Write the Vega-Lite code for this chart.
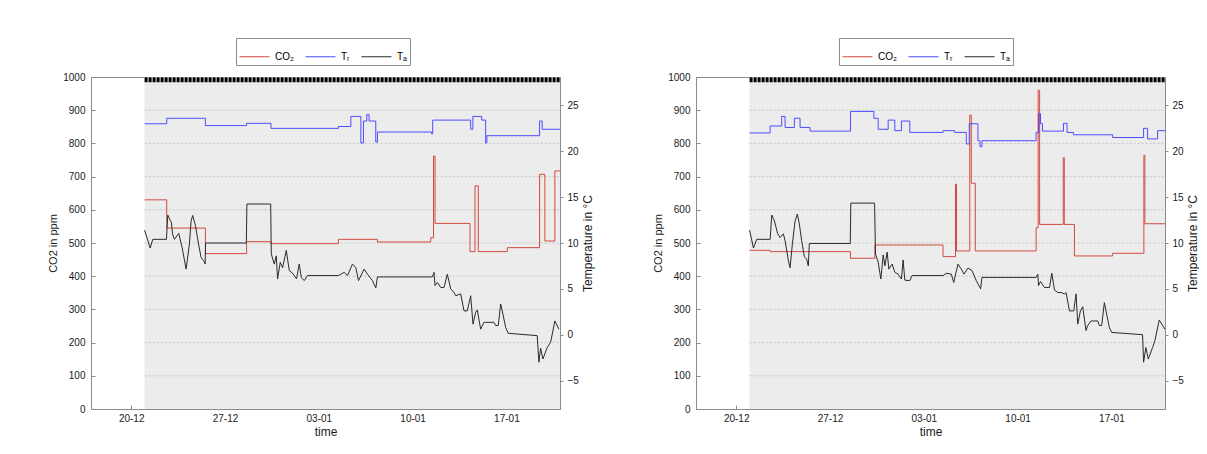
{
 "$schema": "https://vega.github.io/schema/vega-lite/v6.json",
 "padding": {"left": 47, "top": 37, "right": 0, "bottom": 0},
 "background": "white",
 "config": {
  "font": "Liberation Sans",
  "view": {"stroke": "#8c8c8c"},
  "axis": {"domainColor": "#8c8c8c", "tickColor": "#8c8c8c", "labelColor": "#1a1a1a", "titleColor": "#1a1a1a", "titleFontWeight": "normal", "grid": false, "labelFont": "Liberation Sans", "titleFont": "Liberation Sans", "labelFontSize": 10, "labelOverlap": false},
  "axisBottom": {"tickSize": -4, "labelPadding": 8, "titlePadding": 3, "titleFontSize": 12, "labelFlush": false},
  "axisLeft": {"tickSize": -4, "labelPadding": 10, "titlePadding": 4, "titleFontSize": 11, "labelOverlap": false},
  "axisRight": {"tickSize": 3, "labelPadding": 4, "titlePadding": 4, "titleFontSize": 12, "titleAngle": 270, "titleBaseline": "top"},
  "legend": {"labelFont": "Liberation Sans", "orient": "none", "legendY": -39, "direction": "horizontal", "symbolType": "stroke", "symbolSize": 900, "symbolStrokeWidth": 1, "labelFontSize": 10, "strokeColor": "#8c8c8c", "fillColor": "#ffffff", "padding": 3, "columnPadding": 9, "labelOffset": 5}
 },
 "datasets": {
  "span": [{"start": "2012-12-21T00:00", "end": "2013-01-21T00:00"}],
  "grid": [{"g": 100}, {"g": 200}, {"g": 300}, {"g": 400}, {"g": 500}, {"g": 600}, {"g": 700}, {"g": 800}, {"g": 900}],
  "left": [
   {"s": "CO2", "t": "2012-12-21T00:00", "v": 630},
   {"s": "CO2", "t": "2012-12-22T15:40", "v": 545},
   {"s": "CO2", "t": "2012-12-25T12:53", "v": 468},
   {"s": "CO2", "t": "2012-12-28T14:44", "v": 504},
   {"s": "CO2", "t": "2012-12-30T10:22", "v": 498},
   {"s": "CO2", "t": "2013-01-04T11:15", "v": 511},
   {"s": "CO2", "t": "2013-01-07T09:00", "v": 503},
   {"s": "CO2", "t": "2013-01-11T08:31", "v": 516},
   {"s": "CO2", "t": "2013-01-11T13:30", "v": 762},
   {"s": "CO2", "t": "2013-01-11T16:12", "v": 559},
   {"s": "CO2", "t": "2013-01-14T06:47", "v": 474},
   {"s": "CO2", "t": "2013-01-14T15:44", "v": 672},
   {"s": "CO2", "t": "2013-01-14T21:39", "v": 474},
   {"s": "CO2", "t": "2013-01-17T01:30", "v": 486},
   {"s": "CO2", "t": "2013-01-19T11:26", "v": 707},
   {"s": "CO2", "t": "2013-01-19T20:56", "v": 506},
   {"s": "CO2", "t": "2013-01-20T14:48", "v": 717},
   {"s": "CO2", "t": "2013-01-21T00:00", "v": 717},
   {"s": "T_R", "t": "2012-12-21T00:00", "v": 23.0},
   {"s": "T_R", "t": "2012-12-22T15:40", "v": 23.6},
   {"s": "T_R", "t": "2012-12-25T12:53", "v": 22.8},
   {"s": "T_R", "t": "2012-12-28T14:44", "v": 23.05},
   {"s": "T_R", "t": "2012-12-30T10:22", "v": 22.5},
   {"s": "T_R", "t": "2013-01-04T11:15", "v": 22.7},
   {"s": "T_R", "t": "2013-01-05T09:26", "v": 23.8},
   {"s": "T_R", "t": "2013-01-06T03:20", "v": 20.9},
   {"s": "T_R", "t": "2013-01-06T08:00", "v": 23.3},
   {"s": "T_R", "t": "2013-01-06T14:00", "v": 24.0},
   {"s": "T_R", "t": "2013-01-06T18:00", "v": 23.3},
   {"s": "T_R", "t": "2013-01-07T06:00", "v": 21.0},
   {"s": "T_R", "t": "2013-01-07T09:00", "v": 22.1},
   {"s": "T_R", "t": "2013-01-11T10:00", "v": 21.9},
   {"s": "T_R", "t": "2013-01-11T12:00", "v": 23.4},
   {"s": "T_R", "t": "2013-01-14T08:00", "v": 22.4},
   {"s": "T_R", "t": "2013-01-14T12:00", "v": 23.8},
   {"s": "T_R", "t": "2013-01-15T03:43", "v": 23.4},
   {"s": "T_R", "t": "2013-01-15T10:52", "v": 20.9},
   {"s": "T_R", "t": "2013-01-15T13:00", "v": 21.7},
   {"s": "T_R", "t": "2013-01-19T11:26", "v": 23.3},
   {"s": "T_R", "t": "2013-01-19T16:06", "v": 22.4},
   {"s": "T_R", "t": "2013-01-21T00:00", "v": 22.4},
   {"s": "T_A", "t": "2012-12-21T00:00", "v": 11.4},
   {"s": "T_A", "t": "2012-12-21T10:00", "v": 9.45},
   {"s": "T_A", "t": "2012-12-21T14:38", "v": 10.4},
   {"s": "T_A", "t": "2012-12-22T15:07", "v": 10.4},
   {"s": "T_A", "t": "2012-12-22T17:27", "v": 13.05},
   {"s": "T_A", "t": "2012-12-23T00:04", "v": 12.2},
   {"s": "T_A", "t": "2012-12-23T02:00", "v": 11.0},
   {"s": "T_A", "t": "2012-12-23T05:26", "v": 10.4},
   {"s": "T_A", "t": "2012-12-23T13:08", "v": 11.05},
   {"s": "T_A", "t": "2012-12-23T19:12", "v": 9.5},
   {"s": "T_A", "t": "2012-12-24T02:21", "v": 7.15},
   {"s": "T_A", "t": "2012-12-24T08:15", "v": 9.9},
   {"s": "T_A", "t": "2012-12-24T11:18", "v": 12.4},
   {"s": "T_A", "t": "2012-12-24T14:10", "v": 13.0},
   {"s": "T_A", "t": "2012-12-24T19:00", "v": 11.9},
   {"s": "T_A", "t": "2012-12-24T23:07", "v": 10.4},
   {"s": "T_A", "t": "2012-12-25T05:11", "v": 8.4},
   {"s": "T_A", "t": "2012-12-25T09:50", "v": 8.07},
   {"s": "T_A", "t": "2012-12-25T12:31", "v": 7.7},
   {"s": "T_A", "t": "2012-12-25T13:12", "v": 10.0},
   {"s": "T_A", "t": "2012-12-28T14:12", "v": 10.0},
   {"s": "T_A", "t": "2012-12-28T15:16", "v": 14.25},
   {"s": "T_A", "t": "2012-12-30T09:50", "v": 14.25},
   {"s": "T_A", "t": "2012-12-30T10:54", "v": 8.8},
   {"s": "T_A", "t": "2012-12-30T16:16", "v": 7.7},
   {"s": "T_A", "t": "2012-12-30T19:51", "v": 8.6},
   {"s": "T_A", "t": "2012-12-30T22:10", "v": 6.07},
   {"s": "T_A", "t": "2012-12-31T03:00", "v": 7.9},
   {"s": "T_A", "t": "2012-12-31T07:08", "v": 7.3},
   {"s": "T_A", "t": "2012-12-31T13:44", "v": 9.2},
   {"s": "T_A", "t": "2012-12-31T19:06", "v": 7.0},
   {"s": "T_A", "t": "2013-01-01T01:00", "v": 6.7},
   {"s": "T_A", "t": "2013-01-01T08:10", "v": 6.1},
   {"s": "T_A", "t": "2013-01-01T13:00", "v": 7.7},
   {"s": "T_A", "t": "2013-01-01T16:34", "v": 6.25},
   {"s": "T_A", "t": "2013-01-01T21:56", "v": 5.9},
   {"s": "T_A", "t": "2013-01-02T03:49", "v": 6.45},
   {"s": "T_A", "t": "2013-01-04T11:15", "v": 6.45},
   {"s": "T_A", "t": "2013-01-04T21:27", "v": 6.8},
   {"s": "T_A", "t": "2013-01-05T03:22", "v": 6.45},
   {"s": "T_A", "t": "2013-01-05T12:18", "v": 7.7},
   {"s": "T_A", "t": "2013-01-05T18:23", "v": 7.3},
   {"s": "T_A", "t": "2013-01-05T23:02", "v": 5.9},
   {"s": "T_A", "t": "2013-01-06T09:14", "v": 7.15},
   {"s": "T_A", "t": "2013-01-06T15:07", "v": 6.6},
   {"s": "T_A", "t": "2013-01-07T00:04", "v": 5.9},
   {"s": "T_A", "t": "2013-01-07T06:09", "v": 5.1},
   {"s": "T_A", "t": "2013-01-07T09:00", "v": 6.3},
   {"s": "T_A", "t": "2013-01-11T11:22", "v": 6.3},
   {"s": "T_A", "t": "2013-01-11T14:24", "v": 6.8},
   {"s": "T_A", "t": "2013-01-11T16:12", "v": 5.35},
   {"s": "T_A", "t": "2013-01-11T20:18", "v": 5.7},
   {"s": "T_A", "t": "2013-01-12T02:24", "v": 5.15},
   {"s": "T_A", "t": "2013-01-12T08:18", "v": 5.15},
   {"s": "T_A", "t": "2013-01-12T14:12", "v": 6.6},
   {"s": "T_A", "t": "2013-01-12T20:17", "v": 5.0},
   {"s": "T_A", "t": "2013-01-13T02:11", "v": 4.6},
   {"s": "T_A", "t": "2013-01-13T05:14", "v": 4.25},
   {"s": "T_A", "t": "2013-01-13T14:10", "v": 4.45},
   {"s": "T_A", "t": "2013-01-13T20:04", "v": 2.6},
   {"s": "T_A", "t": "2013-01-14T01:58", "v": 2.6},
   {"s": "T_A", "t": "2013-01-14T08:02", "v": 4.25},
   {"s": "T_A", "t": "2013-01-14T12:10", "v": 1.15},
   {"s": "T_A", "t": "2013-01-14T17:00", "v": 2.45},
   {"s": "T_A", "t": "2013-01-14T19:51", "v": 2.7},
   {"s": "T_A", "t": "2013-01-15T01:55", "v": 0.6},
   {"s": "T_A", "t": "2013-01-15T07:49", "v": 1.35},
   {"s": "T_A", "t": "2013-01-16T01:44", "v": 1.35},
   {"s": "T_A", "t": "2013-01-16T04:45", "v": 1.0},
   {"s": "T_A", "t": "2013-01-16T09:25", "v": 1.0},
   {"s": "T_A", "t": "2013-01-16T13:42", "v": 3.35},
   {"s": "T_A", "t": "2013-01-16T16:34", "v": 2.6},
   {"s": "T_A", "t": "2013-01-16T22:38", "v": 0.8},
   {"s": "T_A", "t": "2013-01-17T03:17", "v": 0.15},
   {"s": "T_A", "t": "2013-01-19T07:09", "v": -0.1},
   {"s": "T_A", "t": "2013-01-19T10:12", "v": -3.0},
   {"s": "T_A", "t": "2013-01-19T13:15", "v": -1.45},
   {"s": "T_A", "t": "2013-01-19T17:21", "v": -2.65},
   {"s": "T_A", "t": "2013-01-20T01:02", "v": -1.4},
   {"s": "T_A", "t": "2013-01-20T07:07", "v": -0.85},
   {"s": "T_A", "t": "2013-01-20T14:48", "v": 1.5},
   {"s": "T_A", "t": "2013-01-20T21:58", "v": 0.6}
  ],
  "right": [
   {"s": "CO2", "t": "2012-12-21T00:00", "v": 478},
   {"s": "CO2", "t": "2012-12-22T12:46", "v": 474},
   {"s": "CO2", "t": "2012-12-28T12:47", "v": 454},
   {"s": "CO2", "t": "2012-12-30T08:24", "v": 494},
   {"s": "CO2", "t": "2013-01-04T10:28", "v": 459},
   {"s": "CO2", "t": "2013-01-05T08:47", "v": 677},
   {"s": "CO2", "t": "2013-01-05T10:35", "v": 476},
   {"s": "CO2", "t": "2013-01-06T10:21", "v": 885},
   {"s": "CO2", "t": "2013-01-06T13:02", "v": 680},
   {"s": "CO2", "t": "2013-01-06T20:11", "v": 476},
   {"s": "CO2", "t": "2013-01-11T09:12", "v": 546},
   {"s": "CO2", "t": "2013-01-11T12:46", "v": 960},
   {"s": "CO2", "t": "2013-01-11T15:26", "v": 556},
   {"s": "CO2", "t": "2013-01-13T09:47", "v": 757},
   {"s": "CO2", "t": "2013-01-13T11:35", "v": 556},
   {"s": "CO2", "t": "2013-01-14T05:48", "v": 461},
   {"s": "CO2", "t": "2013-01-17T02:15", "v": 469},
   {"s": "CO2", "t": "2013-01-19T10:11", "v": 764},
   {"s": "CO2", "t": "2013-01-19T11:58", "v": 558},
   {"s": "CO2", "t": "2013-01-21T00:00", "v": 558},
   {"s": "T_R", "t": "2012-12-21T00:00", "v": 22.0},
   {"s": "T_R", "t": "2012-12-22T12:46", "v": 22.76},
   {"s": "T_R", "t": "2012-12-23T09:29", "v": 23.8},
   {"s": "T_R", "t": "2012-12-23T15:34", "v": 22.6},
   {"s": "T_R", "t": "2012-12-24T08:11", "v": 23.6},
   {"s": "T_R", "t": "2012-12-24T18:22", "v": 22.6},
   {"s": "T_R", "t": "2012-12-25T12:14", "v": 22.2},
   {"s": "T_R", "t": "2012-12-28T12:47", "v": 24.35},
   {"s": "T_R", "t": "2012-12-30T06:37", "v": 23.6},
   {"s": "T_R", "t": "2012-12-30T14:18", "v": 22.4},
   {"s": "T_R", "t": "2012-12-31T08:10", "v": 23.4},
   {"s": "T_R", "t": "2012-12-31T20:08", "v": 22.25},
   {"s": "T_R", "t": "2013-01-01T07:56", "v": 23.3},
   {"s": "T_R", "t": "2013-01-01T22:57", "v": 22.06},
   {"s": "T_R", "t": "2013-01-04T10:28", "v": 22.25},
   {"s": "T_R", "t": "2013-01-05T07:22", "v": 22.06},
   {"s": "T_R", "t": "2013-01-06T04:05", "v": 20.8},
   {"s": "T_R", "t": "2013-01-06T09:27", "v": 23.0},
   {"s": "T_R", "t": "2013-01-07T01:00", "v": 21.15},
   {"s": "T_R", "t": "2013-01-07T04:34", "v": 20.5},
   {"s": "T_R", "t": "2013-01-07T08:10", "v": 21.15},
   {"s": "T_R", "t": "2013-01-11T09:12", "v": 22.06},
   {"s": "T_R", "t": "2013-01-11T13:28", "v": 24.1},
   {"s": "T_R", "t": "2013-01-11T17:02", "v": 23.0},
   {"s": "T_R", "t": "2013-01-11T20:37", "v": 22.2},
   {"s": "T_R", "t": "2013-01-13T10:09", "v": 23.05},
   {"s": "T_R", "t": "2013-01-13T16:35", "v": 22.06},
   {"s": "T_R", "t": "2013-01-14T04:02", "v": 21.8},
   {"s": "T_R", "t": "2013-01-17T02:15", "v": 21.5},
   {"s": "T_R", "t": "2013-01-19T09:39", "v": 22.5},
   {"s": "T_R", "t": "2013-01-19T16:48", "v": 21.35},
   {"s": "T_R", "t": "2013-01-20T10:41", "v": 22.25},
   {"s": "T_R", "t": "2013-01-21T00:00", "v": 22.25},
   {"s": "T_A", "t": "2012-12-21T00:00", "v": 11.4},
   {"s": "T_A", "t": "2012-12-21T06:55", "v": 9.45},
   {"s": "T_A", "t": "2012-12-21T12:49", "v": 10.4},
   {"s": "T_A", "t": "2012-12-22T12:46", "v": 10.4},
   {"s": "T_A", "t": "2012-12-22T15:37", "v": 13.05},
   {"s": "T_A", "t": "2012-12-22T20:27", "v": 12.4},
   {"s": "T_A", "t": "2012-12-23T02:21", "v": 11.0},
   {"s": "T_A", "t": "2012-12-23T06:37", "v": 10.6},
   {"s": "T_A", "t": "2012-12-23T12:31", "v": 11.0},
   {"s": "T_A", "t": "2012-12-23T15:34", "v": 10.25},
   {"s": "T_A", "t": "2012-12-23T21:27", "v": 8.07},
   {"s": "T_A", "t": "2012-12-24T00:30", "v": 7.3},
   {"s": "T_A", "t": "2012-12-24T04:36", "v": 9.9},
   {"s": "T_A", "t": "2012-12-24T09:26", "v": 12.4},
   {"s": "T_A", "t": "2012-12-24T13:32", "v": 13.15},
   {"s": "T_A", "t": "2012-12-24T17:07", "v": 12.07},
   {"s": "T_A", "t": "2012-12-24T21:14", "v": 10.25},
   {"s": "T_A", "t": "2012-12-25T02:04", "v": 8.5},
   {"s": "T_A", "t": "2012-12-25T06:10", "v": 8.25},
   {"s": "T_A", "t": "2012-12-25T09:11", "v": 7.5},
   {"s": "T_A", "t": "2012-12-25T10:59", "v": 9.95},
   {"s": "T_A", "t": "2012-12-28T12:15", "v": 9.95},
   {"s": "T_A", "t": "2012-12-28T13:19", "v": 14.35},
   {"s": "T_A", "t": "2012-12-30T07:52", "v": 14.35},
   {"s": "T_A", "t": "2012-12-30T09:29", "v": 8.8},
   {"s": "T_A", "t": "2012-12-30T14:18", "v": 7.9},
   {"s": "T_A", "t": "2012-12-30T19:07", "v": 6.07},
   {"s": "T_A", "t": "2012-12-30T23:14", "v": 8.7},
   {"s": "T_A", "t": "2012-12-31T02:17", "v": 7.5},
   {"s": "T_A", "t": "2012-12-31T06:23", "v": 9.0},
   {"s": "T_A", "t": "2012-12-31T09:25", "v": 7.15},
   {"s": "T_A", "t": "2012-12-31T15:19", "v": 7.7},
   {"s": "T_A", "t": "2012-12-31T20:08", "v": 6.8},
   {"s": "T_A", "t": "2013-01-01T02:02", "v": 6.6},
   {"s": "T_A", "t": "2013-01-01T07:56", "v": 6.07},
   {"s": "T_A", "t": "2013-01-01T10:58", "v": 8.15},
   {"s": "T_A", "t": "2013-01-01T14:01", "v": 5.95},
   {"s": "T_A", "t": "2013-01-01T22:57", "v": 5.9},
   {"s": "T_A", "t": "2013-01-02T03:03", "v": 6.45},
   {"s": "T_A", "t": "2013-01-04T10:28", "v": 6.45},
   {"s": "T_A", "t": "2013-01-04T16:21", "v": 6.7},
   {"s": "T_A", "t": "2013-01-05T01:18", "v": 6.6},
   {"s": "T_A", "t": "2013-01-05T05:34", "v": 5.7},
   {"s": "T_A", "t": "2013-01-05T13:16", "v": 7.7},
   {"s": "T_A", "t": "2013-01-05T19:09", "v": 7.15},
   {"s": "T_A", "t": "2013-01-06T00:00", "v": 6.6},
   {"s": "T_A", "t": "2013-01-06T07:08", "v": 7.27},
   {"s": "T_A", "t": "2013-01-06T14:17", "v": 7.0},
   {"s": "T_A", "t": "2013-01-06T21:58", "v": 5.9},
   {"s": "T_A", "t": "2013-01-07T05:50", "v": 5.0},
   {"s": "T_A", "t": "2013-01-07T08:10", "v": 6.25},
   {"s": "T_A", "t": "2013-01-11T09:12", "v": 6.25},
   {"s": "T_A", "t": "2013-01-11T12:13", "v": 6.6},
   {"s": "T_A", "t": "2013-01-11T13:28", "v": 5.35},
   {"s": "T_A", "t": "2013-01-11T17:02", "v": 5.8},
   {"s": "T_A", "t": "2013-01-12T00:12", "v": 5.15},
   {"s": "T_A", "t": "2013-01-12T09:09", "v": 5.15},
   {"s": "T_A", "t": "2013-01-12T13:15", "v": 6.7},
   {"s": "T_A", "t": "2013-01-12T18:04", "v": 4.87},
   {"s": "T_A", "t": "2013-01-12T23:57", "v": 4.6},
   {"s": "T_A", "t": "2013-01-13T05:51", "v": 4.6},
   {"s": "T_A", "t": "2013-01-13T11:55", "v": 4.45},
   {"s": "T_A", "t": "2013-01-13T14:47", "v": 4.6},
   {"s": "T_A", "t": "2013-01-13T20:52", "v": 2.6},
   {"s": "T_A", "t": "2013-01-14T04:34", "v": 2.6},
   {"s": "T_A", "t": "2013-01-14T08:40", "v": 4.45},
   {"s": "T_A", "t": "2013-01-14T11:43", "v": 1.15},
   {"s": "T_A", "t": "2013-01-14T16:32", "v": 2.6},
   {"s": "T_A", "t": "2013-01-14T20:38", "v": 3.05},
   {"s": "T_A", "t": "2013-01-15T02:32", "v": 0.45},
   {"s": "T_A", "t": "2013-01-15T05:34", "v": 1.0},
   {"s": "T_A", "t": "2013-01-15T11:28", "v": 1.5},
   {"s": "T_A", "t": "2013-01-15T23:27", "v": 1.5},
   {"s": "T_A", "t": "2013-01-16T02:30", "v": 1.0},
   {"s": "T_A", "t": "2013-01-16T06:36", "v": 1.0},
   {"s": "T_A", "t": "2013-01-16T11:25", "v": 3.5},
   {"s": "T_A", "t": "2013-01-16T14:17", "v": 2.6},
   {"s": "T_A", "t": "2013-01-16T20:21", "v": 0.8},
   {"s": "T_A", "t": "2013-01-17T00:27", "v": 0.25},
   {"s": "T_A", "t": "2013-01-19T07:52", "v": 0.0},
   {"s": "T_A", "t": "2013-01-19T09:39", "v": -3.0},
   {"s": "T_A", "t": "2013-01-19T13:46", "v": -1.4},
   {"s": "T_A", "t": "2013-01-19T18:03", "v": -2.65},
   {"s": "T_A", "t": "2013-01-20T01:44", "v": -1.4},
   {"s": "T_A", "t": "2013-01-20T05:51", "v": -0.65},
   {"s": "T_A", "t": "2013-01-20T13:42", "v": 1.6},
   {"s": "T_A", "t": "2013-01-21T00:00", "v": 0.6}
  ]
 },
 "spacing": 58,
 "resolve": {"scale": {"color": "independent"}, "legend": {"color": "independent"}},
 "hconcat": [
  {
   "width": 469, "height": 332,
   "layer": [
    {"layer": [
     {"data": {"name": "span"}, "mark": {"type": "rect", "fill": "#ececec"},
      "encoding": {
       "x": {"field": "start", "type": "temporal", "title": "time", "scale": {"domain": [{"year": 2012, "month": 12, "date": 17}, {"year": 2013, "month": 1, "date": 21}], "nice": false}},
       "x2": {"field": "end"},
       "y": {"datum": 0, "type": "quantitative", "title": "CO2 in ppm", "scale": {"domain": [0, 1000], "nice": false}, "axis": {"values": [0, 100, 200, 300, 400, 500, 600, 700, 800, 900, 1000], "format": "d", "labelOverlap": false}},
       "y2": {"datum": 1000}}},
     {"data": {"name": "grid"}, "mark": {"type": "rule", "stroke": "#c4c4c4", "strokeDash": [2, 2], "strokeWidth": 1},
      "encoding": {
       "x": {"datum": {"year": 2012, "month": 12, "date": 21}, "type": "temporal", "title": "time"},
       "x2": {"datum": {"year": 2013, "month": 1, "date": 21}},
       "y": {"field": "g", "type": "quantitative", "title": "CO2 in ppm", "axis": {"values": [0, 100, 200, 300, 400, 500, 600, 700, 800, 900, 1000], "format": "d", "labelOverlap": false}}}},
     {"data": {"name": "span"}, "mark": {"type": "rule", "stroke": "#000000", "strokeWidth": 5, "strokeDash": [3, 1]},
      "encoding": {
       "x": {"field": "start", "type": "temporal", "title": "time"},
       "x2": {"field": "end"},
       "y": {"datum": 992, "type": "quantitative", "title": "CO2 in ppm", "axis": {"values": [0, 100, 200, 300, 400, 500, 600, 700, 800, 900, 1000], "format": "d", "labelOverlap": false}}}},
     {"data": {"name": "left"}, "transform": [{"filter": "datum.s === 'CO2'"}],
      "mark": {"type": "line", "interpolate": "step-after", "strokeWidth": 1},
      "encoding": {
       "x": {"field": "t", "type": "temporal", "title": "time",
        "axis": {"values": [{"year": 2012, "month": 12, "date": 20}, {"year": 2012, "month": 12, "date": 27}, {"year": 2013, "month": 1, "date": 3}, {"year": 2013, "month": 1, "date": 10}, {"year": 2013, "month": 1, "date": 17}], "format": "%d-%m", "labelOverlap": false}},
       "y": {"field": "v", "type": "quantitative", "title": "CO2 in ppm",
        "axis": {"values": [0, 100, 200, 300, 400, 500, 600, 700, 800, 900, 1000], "format": "d", "labelOverlap": false}},
       "color": {"field": "s", "type": "nominal", "scale": {"domain": ["CO2", "T_R", "T_A"], "range": ["#d24a3f", "#4d4dff", "#2b2b2b"]},
        "legend": {"title": null, "legendX": 145, "labelExpr": "datum.label == 'CO2' ? 'CO₂' : datum.label == 'T_R' ? 'Tᵣ' : 'Tₐ'"}}}}
    ]},
    {"layer": [
     {"data": {"name": "left"}, "transform": [{"filter": "datum.s === 'T_R'"}],
      "mark": {"type": "line", "interpolate": "step-after", "strokeWidth": 1},
      "encoding": {
       "x": {"field": "t", "type": "temporal", "title": "time"},
       "y": {"field": "v", "type": "quantitative", "title": "Temperature in °C", "scale": {"domain": [-8.1, 28.1], "nice": false, "zero": false},
        "axis": {"orient": "right", "values": [-5, 0, 5, 10, 15, 20, 25], "labelOverlap": false}},
       "color": {"field": "s", "type": "nominal", "scale": {"domain": ["CO2", "T_R", "T_A"], "range": ["#d24a3f", "#4d4dff", "#2b2b2b"]},
        "legend": {"title": null, "legendX": 145, "labelExpr": "datum.label == 'CO2' ? 'CO₂' : datum.label == 'T_R' ? 'Tᵣ' : 'Tₐ'"}}}},
     {"data": {"name": "left"}, "transform": [{"filter": "datum.s === 'T_A'"}],
      "mark": {"type": "line", "strokeWidth": 1},
      "encoding": {
       "x": {"field": "t", "type": "temporal", "title": "time"},
       "y": {"field": "v", "type": "quantitative", "title": "Temperature in °C", "axis": {"orient": "right", "values": [-5, 0, 5, 10, 15, 20, 25], "labelOverlap": false}},
       "color": {"field": "s", "type": "nominal", "scale": {"domain": ["CO2", "T_R", "T_A"], "range": ["#d24a3f", "#4d4dff", "#2b2b2b"]},
        "legend": {"title": null, "legendX": 145, "labelExpr": "datum.label == 'CO2' ? 'CO₂' : datum.label == 'T_R' ? 'Tᵣ' : 'Tₐ'"}}}}
    ]}
   ],
   "resolve": {"scale": {"y": "independent"}, "axis": {"y": "independent"}}
  },
  {
   "width": 469, "height": 332,
   "layer": [
    {"layer": [
     {"data": {"name": "span"}, "mark": {"type": "rect", "fill": "#ececec"},
      "encoding": {
       "x": {"field": "start", "type": "temporal", "title": "time", "scale": {"domain": [{"year": 2012, "month": 12, "date": 17}, {"year": 2013, "month": 1, "date": 21}], "nice": false}},
       "x2": {"field": "end"},
       "y": {"datum": 0, "type": "quantitative", "title": "CO2 in ppm", "scale": {"domain": [0, 1000], "nice": false}, "axis": {"values": [0, 100, 200, 300, 400, 500, 600, 700, 800, 900, 1000], "format": "d", "labelOverlap": false}},
       "y2": {"datum": 1000}}},
     {"data": {"name": "grid"}, "mark": {"type": "rule", "stroke": "#c4c4c4", "strokeDash": [2, 2], "strokeWidth": 1},
      "encoding": {
       "x": {"datum": {"year": 2012, "month": 12, "date": 21}, "type": "temporal", "title": "time"},
       "x2": {"datum": {"year": 2013, "month": 1, "date": 21}},
       "y": {"field": "g", "type": "quantitative", "title": "CO2 in ppm", "axis": {"values": [0, 100, 200, 300, 400, 500, 600, 700, 800, 900, 1000], "format": "d", "labelOverlap": false}}}},
     {"data": {"name": "span"}, "mark": {"type": "rule", "stroke": "#000000", "strokeWidth": 5, "strokeDash": [3, 1]},
      "encoding": {
       "x": {"field": "start", "type": "temporal", "title": "time"},
       "x2": {"field": "end"},
       "y": {"datum": 992, "type": "quantitative", "title": "CO2 in ppm", "axis": {"values": [0, 100, 200, 300, 400, 500, 600, 700, 800, 900, 1000], "format": "d", "labelOverlap": false}}}},
     {"data": {"name": "right"}, "transform": [{"filter": "datum.s === 'CO2'"}],
      "mark": {"type": "line", "interpolate": "step-after", "strokeWidth": 1},
      "encoding": {
       "x": {"field": "t", "type": "temporal", "title": "time",
        "axis": {"values": [{"year": 2012, "month": 12, "date": 20}, {"year": 2012, "month": 12, "date": 27}, {"year": 2013, "month": 1, "date": 3}, {"year": 2013, "month": 1, "date": 10}, {"year": 2013, "month": 1, "date": 17}], "format": "%d-%m", "labelOverlap": false}},
       "y": {"field": "v", "type": "quantitative", "title": "CO2 in ppm",
        "axis": {"values": [0, 100, 200, 300, 400, 500, 600, 700, 800, 900, 1000], "format": "d", "labelOverlap": false}},
       "color": {"field": "s", "type": "nominal", "scale": {"domain": ["CO2", "T_R", "T_A"], "range": ["#d24a3f", "#4d4dff", "#2b2b2b"]},
        "legend": {"title": null, "legendX": 143, "labelExpr": "datum.label == 'CO2' ? 'CO₂' : datum.label == 'T_R' ? 'Tᵣ' : 'Tₐ'"}}}}
    ]},
    {"layer": [
     {"data": {"name": "right"}, "transform": [{"filter": "datum.s === 'T_R'"}],
      "mark": {"type": "line", "interpolate": "step-after", "strokeWidth": 1},
      "encoding": {
       "x": {"field": "t", "type": "temporal", "title": "time"},
       "y": {"field": "v", "type": "quantitative", "title": "Temperature in °C", "scale": {"domain": [-8.1, 28.1], "nice": false, "zero": false},
        "axis": {"orient": "right", "values": [-5, 0, 5, 10, 15, 20, 25], "labelOverlap": false}},
       "color": {"field": "s", "type": "nominal", "scale": {"domain": ["CO2", "T_R", "T_A"], "range": ["#d24a3f", "#4d4dff", "#2b2b2b"]},
        "legend": {"title": null, "legendX": 143, "labelExpr": "datum.label == 'CO2' ? 'CO₂' : datum.label == 'T_R' ? 'Tᵣ' : 'Tₐ'"}}}},
     {"data": {"name": "right"}, "transform": [{"filter": "datum.s === 'T_A'"}],
      "mark": {"type": "line", "strokeWidth": 1},
      "encoding": {
       "x": {"field": "t", "type": "temporal", "title": "time"},
       "y": {"field": "v", "type": "quantitative", "title": "Temperature in °C", "axis": {"orient": "right", "values": [-5, 0, 5, 10, 15, 20, 25], "labelOverlap": false}},
       "color": {"field": "s", "type": "nominal", "scale": {"domain": ["CO2", "T_R", "T_A"], "range": ["#d24a3f", "#4d4dff", "#2b2b2b"]},
        "legend": {"title": null, "legendX": 143, "labelExpr": "datum.label == 'CO2' ? 'CO₂' : datum.label == 'T_R' ? 'Tᵣ' : 'Tₐ'"}}}}
    ]}
   ],
   "resolve": {"scale": {"y": "independent"}, "axis": {"y": "independent"}}
  }
 ]
}
